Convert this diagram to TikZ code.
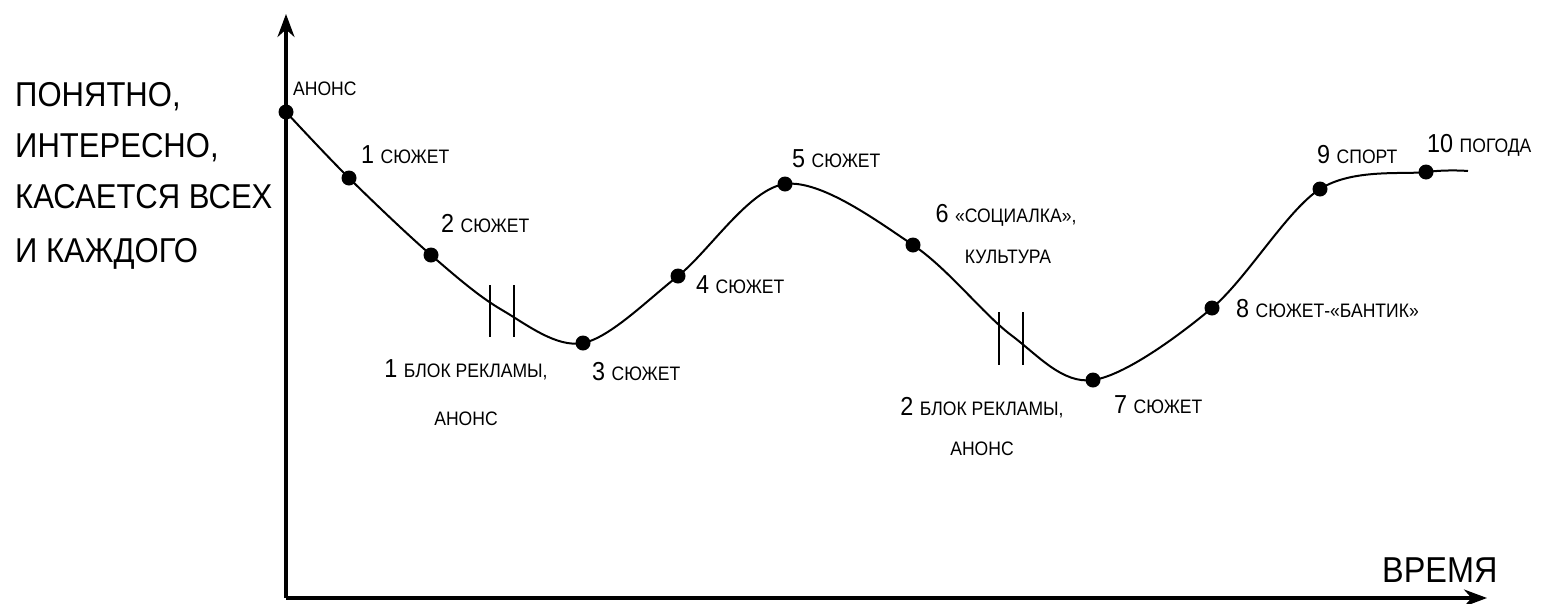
\documentclass[tikz,border=0pt]{standalone}
\usepackage{fontspec}
\setmainfont{Liberation Sans}[FakeStretch=0.9]
\usetikzlibrary{arrows.meta}
\newcommand\mylbl[2]{{\fontsize{26}{30}\selectfont #1\ }{\fontsize{19.5}{24}\selectfont #2}}
\tikzset{
  axisline/.style={line width=3.2pt, -{Stealth[length=23pt,width=17pt]}},
  curveline/.style={line width=2pt},
  tickline/.style={line width=1.6pt},
  dotnode/.style={circle, fill=black, inner sep=0pt, minimum size=15pt},
  lbltext/.style={anchor=base west, inner sep=0pt},
  lblcenter/.style={anchor=base, inner sep=0pt},
  bigtext/.style={anchor=base west, inner sep=0pt, font=\fontsize{34.5}{40}\selectfont},
}
\begin{document}
\begin{tikzpicture}[x=1pt,y=-1pt]
\useasboundingbox (0,0) rectangle (1548,603);
% axes
\coordinate (o) at (286,598);
\coordinate (ytip) at (286,14);
\coordinate (xtip) at (1487,598);
\draw[axisline] (o) -- (ytip);
\draw[axisline] (o) -- (xtip);
% curve points
\coordinate (p0) at (286,112);
\coordinate (p1) at (349,178);
\coordinate (p2) at (431,255);
\coordinate (ma) at (502,310);
\coordinate (p3) at (583,343);
\coordinate (p4) at (678,276);
\coordinate (p5) at (785,184);
\coordinate (p6) at (913,245);
\coordinate (mb) at (1011,335);
\coordinate (p7) at (1093,380);
\coordinate (p8) at (1212,308);
\coordinate (p9) at (1320,189);
\coordinate (p10) at (1426,172);
\coordinate (pe) at (1468,171);
\draw[curveline] plot[smooth, tension=0.55] coordinates {(p0) (p1) (p2) (ma) (p3) (p4) (p5) (p6) (mb) (p7) (p8) (p9) (p10) (pe)};
% ad break ticks
\draw[tickline] (490,285) -- (490,337);
\draw[tickline] (514,285) -- (514,337);
\draw[tickline] (999,312) -- (999,365);
\draw[tickline] (1023,312) -- (1023,365);
% dots
\foreach \p in {p0,p1,p2,p3,p4,p5,p6,p7,p8,p9,p10} \node[dotnode] (d\p) at (\p) {};
% labels
\node[lbltext] (l0) at (293,95) {\fontsize{19.5}{24}\selectfont АНОНС};
\node[lbltext] (l1) at (361,163) {\mylbl{1}{СЮЖЕТ}};
\node[lbltext] (l2) at (441,232) {\mylbl{2}{СЮЖЕТ}};
\node[lblcenter] (ad1a) at (466,377) {\mylbl{1}{БЛОК РЕКЛАМЫ,}};
\node[lblcenter] (ad1b) at (466,425) {\fontsize{19.5}{24}\selectfont АНОНС};
\node[lbltext] (l3) at (592,380) {\mylbl{3}{СЮЖЕТ}};
\node[lbltext] (l4) at (696,293) {\mylbl{4}{СЮЖЕТ}};
\node[lbltext] (l5) at (792,167) {\mylbl{5}{СЮЖЕТ}};
\node[lblcenter] (l6a) at (1006,222) {\mylbl{6}{«СОЦИАЛКА»,}};
\node[lblcenter] (l6b) at (1008,263) {\fontsize{19.5}{24}\selectfont КУЛЬТУРА};
\node[lblcenter] (ad2a) at (982,415) {\mylbl{2}{БЛОК РЕКЛАМЫ,}};
\node[lblcenter] (ad2b) at (982,455) {\fontsize{19.5}{24}\selectfont АНОНС};
\node[lbltext] (l7) at (1114,413) {\mylbl{7}{СЮЖЕТ}};
\node[lbltext] (l8) at (1236,317) {\mylbl{8}{СЮЖЕТ-«БАНТИК»}};
\node[lbltext] (l9) at (1317,163) {\mylbl{9}{СПОРТ}};
\node[lbltext] (l10) at (1427,152) {\mylbl{10}{ПОГОДА}};
% axis titles
\node[bigtext] (t1) at (15,106) {ПОНЯТНО,};
\node[bigtext] (t2) at (15,157) {ИНТЕРЕСНО,};
\node[bigtext] (t3) at (15,208) {КАСАЕТСЯ ВСЕХ};
\node[bigtext] (t4) at (15,262) {И КАЖДОГО};
\node[anchor=base west, inner sep=0pt, font=\fontsize{36}{40}\selectfont] (tx) at (1382,582) {ВРЕМЯ};
\end{tikzpicture}
\end{document}
